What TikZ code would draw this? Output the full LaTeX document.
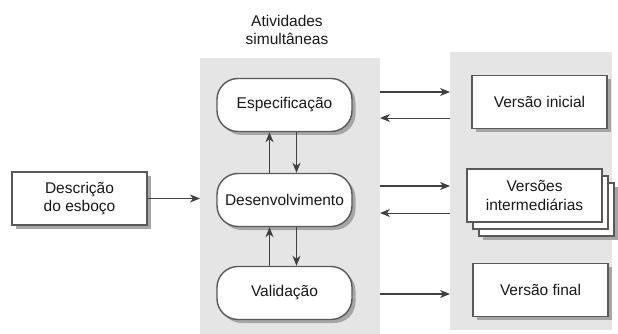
\documentclass[tikz,border=0pt]{standalone}
\usepackage{fontspec}
\setmainfont{Liberation Sans}
\usetikzlibrary{arrows.meta,shadows}
\begin{document}
\begin{tikzpicture}[x=1pt,y=-1pt,
  txt/.style={font=\fontsize{15.5}{18.5}\selectfont, text=black!90, align=center},
  shad/.style={drop shadow={shadow xshift=3.5pt, shadow yshift=-3.5pt, fill=black!35, opacity=1}},
  plainbox/.style={draw=black!65, line width=1.4pt, fill=white, minimum width=135pt, minimum height=53pt, inner sep=2pt},
  box/.style={txt, plainbox, shad},
  act/.style={box, rounded corners=21pt},
  arr/.style={draw=black!75, line width=1.3pt, -{Stealth[length=10pt,width=8pt,inset=3pt]}},
  thinarr/.style={arr, line width=0.9pt},
]
\useasboundingbox (0,0) rectangle (618,334);
% panels
\fill[black!10] (200,58) rectangle (380,334);
\fill[black!10] (450,52) rectangle (612,330);
% title
\node[txt] (title) at (287,30) {Atividades\\simultâneas};
% left input
\node[box] (desc) at (79.5,198.5) {Descrição\\do esboço};
% activities
\node[act] (spec) at (284.5,105) {Especificação};
\node[act] (dev) at (284.5,200) {Desenvolvimento};
\node[act] (val) at (284.5,293) {Validação};
% outputs
\node[box] (vi) at (539.5,102) {Versão inicial};
\node[plainbox, shad] (vm3) at (546.5,209.5) {};
\node[plainbox] (vm2) at (540.5,202.5) {};
\node[plainbox, txt] (vm) at (534.5,195.5) {Versões\\intermediárias};
\node[box] (vf) at (540.5,290) {Versão final};
% connectors
\coordinate (inl) at (200,198.5);
\draw[arr] (desc.east |- inl) -- (inl);
\draw[arr] ([xshift=-15pt]dev.north) -- ([xshift=-15pt]spec.south);
\draw[arr] ([xshift=12pt]spec.south) -- ([xshift=12pt]dev.north);
\draw[arr] ([xshift=-15pt]val.north) -- ([xshift=-15pt]dev.south);
\draw[arr] ([xshift=12pt]dev.south) -- ([xshift=12pt]val.north);
% to/from outputs
\coordinate (s1a) at (380,92); \coordinate (s1b) at (450,92);
\coordinate (s2a) at (450,118); \coordinate (s2b) at (380,118);
\coordinate (d1a) at (380,186); \coordinate (d1b) at (450,186);
\coordinate (d2a) at (450,213); \coordinate (d2b) at (380,213);
\coordinate (v1a) at (380,294); \coordinate (v1b) at (450,294);
\draw[arr] (s1a) -- (s1b);
\draw[thinarr] (s2a) -- (s2b);
\draw[arr] (d1a) -- (d1b);
\draw[thinarr] (d2a) -- (d2b);
\draw[arr] (v1a) -- (v1b);
\end{tikzpicture}
\end{document}
